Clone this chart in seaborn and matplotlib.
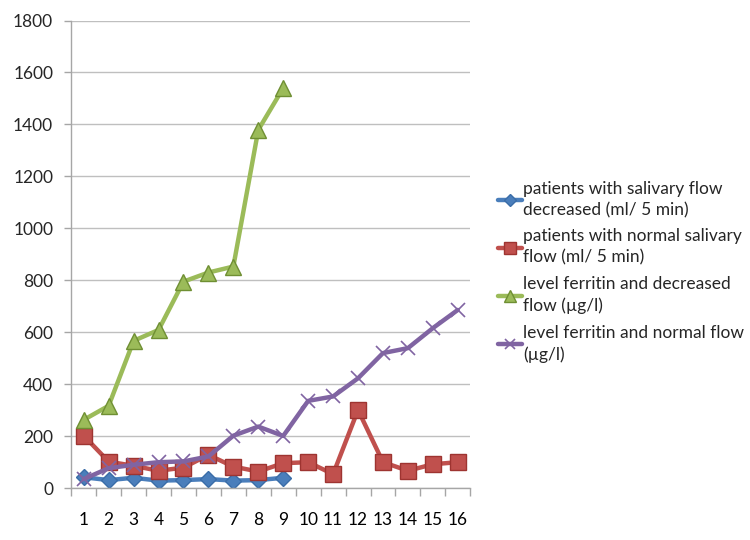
import matplotlib
matplotlib.use("Agg")
import matplotlib.pyplot as plt
import seaborn as sns
import numpy as np

sns.set_theme(style="white")
plt.rcParams['font.family'] = ['Lato', 'DejaVu Sans']

x_all = list(range(1, 17))
x_short = list(range(1, 10))

decreased_flow = [42, 31, 40, 29, 31, 35, 29, 31, 40]
normal_flow = [202, 102, 86, 67, 79, 128, 83, 64, 96, 100, 54, 301, 100, 67, 92, 100]
ferritin_decreased = [263, 317, 567, 609, 795, 830, 853, 1379, 1540]
ferritin_normal = [35, 77, 90, 100, 103, 122, 202, 237, 201, 336, 353, 423, 520, 539, 616, 686]

labels = [
    "patients with salivary flow\ndecreased (ml/ 5 min)",
    "patients with normal salivary\nflow (ml/ 5 min)",
    "level ferritin and decreased\nflow (µg/l)",
    "level ferritin and normal flow\n(µg/l)",
]
y_ticks = [0, 200, 400, 600, 800, 1000, 1200, 1400, 1600, 1800]

fig = plt.figure(figsize=(7.5, 5.4), dpi=100)
ax = fig.add_axes([0.095, 0.096, 0.532, 0.866])

series = [
    (x_short, decreased_flow, "#4A7EBB", "D", 8.5, "#3A6DA8"),
    (x_all, normal_flow, "#C0504D", "s", 11, "#9E3431"),
    (x_short, ferritin_decreased, "#9BBB59", "^", 11.5, "#6F8F33"),
    (x_all, ferritin_normal, "#8064A2", "x", 10, "#8064A2"),
]
for (xs, ys, col, mk, ms, ec), lab in zip(series, labels):
    sns.lineplot(x=xs, y=ys, ax=ax, color=col, linewidth=3.2, marker=mk,
                 markersize=ms, markerfacecolor=col, markeredgecolor=ec,
                 markeredgewidth=1.0 if mk != "x" else 1.2, label=lab)

ax.set_xlim(0.5, 16.5)
ax.set_ylim(0, 1800)
ax.set_yticks(y_ticks)
ax.set_xticks(x_all)
ax.set_xticklabels([str(v) for v in x_all])
ax.set_xticks(np.arange(0.5, 17, 1), minor=True)
ax.yaxis.grid(True, color="#BFBFBF", linewidth=1)
ax.xaxis.grid(False)
for s in ["top", "right"]:
    ax.spines[s].set_visible(False)
for s in ["left", "bottom"]:
    ax.spines[s].set_color("#A6A6A6")
    ax.spines[s].set_linewidth(1)
ax.tick_params(axis="x", which="major", length=0, pad=17, labelsize=12.5, colors="#000000")
ax.tick_params(axis="x", which="minor", length=6, width=1, color="#A6A6A6", direction="out", bottom=True)
ax.tick_params(axis="y", which="major", length=5, width=1, color="#A6A6A6", direction="out", left=True, pad=8, labelsize=12.5)
ax.set_xlabel("")
ax.set_ylabel("")

ax.get_legend().remove()
handles, labs = ax.get_legend_handles_labels()
leg = fig.legend(handles, labs, loc="center left", bbox_to_anchor=(0.643, 0.497),
                 frameon=False, fontsize=12.5, handlelength=1.4, handletextpad=0.05,
                 labelspacing=0.6, markerscale=0.75)
for t in leg.get_texts():
    t.set_linespacing(1.4)

fig.savefig("out.png", dpi=100)
